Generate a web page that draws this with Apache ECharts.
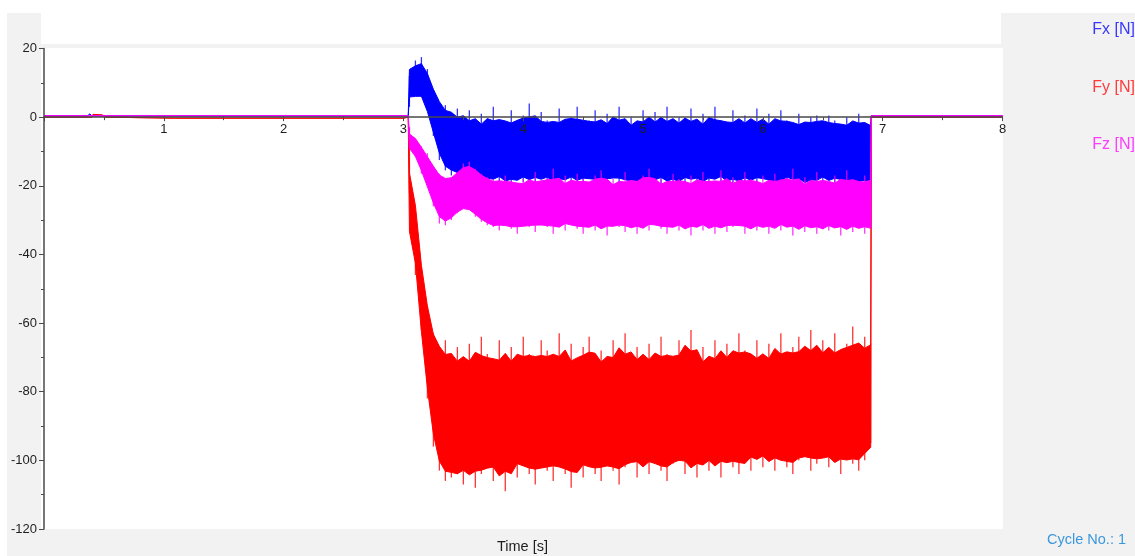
<!DOCTYPE html>
<html>
<head>
<meta charset="utf-8">
<script src="https://cdn.jsdelivr.net/npm/echarts@6/dist/echarts.min.js"></script>
<style>
html,body{margin:0;padding:0;background:#fff;}
#c{width:1135px;height:556px;}
</style>
</head>
<body>
<div id="c"></div>
<script>
// ---- data ----
const seriesNames = ['Fx [N]', 'Fy [N]', 'Fz [N]'];
const xTicks = [1, 2, 3, 4, 5, 6, 7, 8];
const yTicks = [20, 0, -20, -40, -60, -80, -100, -120];

// quiet part before the load (time in s, force in N)
const preTime = [0, 0.37, 0.38, 0.40, 0.41, 0.49, 0.50, 1.10, 1.50, 2.00, 2.50, 3.00, 3.04];
const fxPre = [0.4, 0.4, 0.9, 0.4, 0.4, 0.4, 0.4, 0.4, 0.4, 0.4, 0.4, 0.4, 0.4];
const fyPre = [0, 0, 0, 0, 0.8, 0.6, 0, -0.3, -0.3, -0.3, -0.3, -0.3, 0];
const fzPre = [0.4, 0.4, 0.4, 0.4, 0.4, 0.4, 0.4, 0.4, 0.4, 0.4, 0.4, 0.4, 0.4];

// loaded part: upper / lower envelope of the noisy signals
const bandTime = [3.05,3.1,3.15,3.2,3.25,3.3,3.35,3.4,3.45,3.5,
  3.55,3.6,3.65,3.7,3.75,3.8,3.85,3.9,3.95,4.0,
  4.05,4.1,4.15,4.2,4.25,4.3,4.35,4.4,4.45,4.5,
  4.55,4.6,4.65,4.7,4.75,4.8,4.85,4.9,4.95,5.0,
  5.05,5.1,5.15,5.2,5.25,5.3,5.35,5.4,5.45,5.5,
  5.55,5.6,5.65,5.7,5.75,5.8,5.85,5.9,5.95,6.0,
  6.05,6.1,6.15,6.2,6.25,6.3,6.35,6.4,6.45,6.5,
  6.55,6.6,6.65,6.7,6.75,6.8,6.85,6.9];

const fxHi = [12,16.5,17.5,14,8,4,3.5,0.5,2.5,-1,
  2,-2,1,-3,3,-1,-2,2,-3,0.5,
  4,-2,1.5,-1,-3,2.5,-2,0,3,-2.5,
  -1,2,-3,1,-1.5,3,-2,0,-3,2,
  -1,1.5,-2.5,3,-2,0,-1,2.5,-3,1,
  -2,3,-1,-3,2,-1.5,0.5,-2,2.5,-3,
  1,-2,2,-1,-2.5,1,-3,0,0.5,-2,
  0.5,-1,-3,0,-2,1,-2,-1.5];
const fxLo = [3,8,6,3,-5.5,-12.5,-15.5,-17,-16,-17.5,
  -19,-20,-18,-20.5,-17,-19,-18,-21,-17.5,-19,
  -18,-20,-17,-19.5,-18,-21,-17,-19,-18.5,-20,
  -17,-19,-20.5,-18,-17.5,-20,-18,-19,-21,-17.5,
  -19,-18,-20,-17,-21,-18.5,-19,-17.5,-20,-18,
  -20.5,-17,-19,-18,-21,-17.5,-19.5,-18,-20,-17,
  -19,-21,-18,-19.5,-17,-20,-18.5,-21,-17.5,-19,
  -18,-20.5,-17,-19,-21,-18,-19.5,-20];

const fyHi = [-3,-28,-44,-55,-63,-68,-65,-70,-67,-72,
  -66,-71,-64,-69,-73,-65,-70,-67,-72,-64,
  -69,-71,-65,-68,-72,-63,-70,-66,-73,-67,
  -64,-70,-68,-72,-65,-69,-63,-71,-67,-70,
  -66,-72,-64,-69,-71,-65,-68,-62,-70,-67,
  -73,-65,-69,-66,-71,-63,-68,-70,-65,-72,
  -66,-69,-63,-71,-67,-64,-70,-62,-68,-65,
  -69,-63,-70,-66,-61,-68,-64,-66];
const fyLo = [-22,-46,-62,-82,-96,-103,-106,-105,-104,-107,
  -102,-108,-104,-101,-106,-103,-109,-102,-105,-100,
  -104,-107,-101,-103,-106,-100,-104,-108,-102,-105,
  -101,-104,-106,-100,-103,-107,-102,-99,-105,-101,
  -104,-100,-103,-106,-101,-99,-104,-102,-105,-100,
  -103,-101,-105,-99,-102,-104,-100,-103,-98,-102,
  -100,-103,-99,-102,-104,-100,-98,-103,-101,-99,
  -102,-100,-104,-99,-101,-103,-100,-95];

const fzHi = [-3,-6.5,-8.5,-10.5,-14.5,-16.5,-18,-17.5,-16,-13.5,
  -13,-15,-16.5,-17.5,-18,-19,-17,-18.5,-19.5,-18,
  -19,-16,-20,-18,-15,-19.5,-17,-20,-16.5,-18,
  -20,-17,-15.5,-19,-18,-20.5,-16,-18.5,-19,-17,
  -15,-19,-18,-20,-16.5,-18,-19.5,-17,-20,-16,
  -18.5,-20,-15.5,-19,-17.5,-20,-16,-18,-19.5,-17,
  -20,-16.5,-18,-19,-15,-19.5,-17.5,-20,-16,-18.5,
  -19,-17,-20,-15.5,-18,-19.5,-17,-18.5];
const fzLo = [-7,-11.5,-16.5,-19.5,-26,-31,-31.5,-30,-28,-26.5,
  -27,-29,-30.5,-31.5,-32,-33,-31,-32.5,-34,-31,
  -32,-33.5,-30.5,-32,-34,-31,-33,-30.5,-32.5,-34,
  -31,-33,-32,-34.5,-30.5,-32,-33.5,-31,-34,-32,
  -33,-30.5,-32.5,-34,-31,-33,-32,-34.5,-30.5,-33,
  -32,-34,-31,-33.5,-32,-30.5,-34,-32.5,-33,-31,
  -34,-32,-33,-30.5,-34.5,-32,-33.5,-31,-34,-32.5,
  -33,-31,-34.5,-32,-33.5,-31.5,-34,-32];

// back to rest after the load
const postTime = [6.905, 8];
const fxPost = [0.4, 0.4];
const fyPost = [0, 0];
const fzPost = [0.4, 0.4];

// ---- build chart ----
const colors = ['#0000ff', '#ff0000', '#ff00ff'];
const legendColors = ['#3838ff', '#ff3b3b', '#ff3cff'];
const FONT = '"Liberation Sans", Arial, sans-serif';

const allTime = preTime.concat(bandTime, postTime);
const bandStart = preTime.length, bandEnd = preTime.length + bandTime.length - 1;

// rendering helper: dense core of the noise band (drawn solid) plus one
// spike per sample that reaches the read upper/lower envelope
function coreEdges(L, H) {
  const cLo = L.slice(), cHi = H.slice();
  for (let j = bandStart; j <= bandEnd; j++) {
    let sh = 0, sl = 0, k = 0;
    for (let m = Math.max(bandStart, j - 1); m <= Math.min(bandEnd, j + 1); m++) {
      sh += H[m]; sl += L[m]; k++;
    }
    const mh = sh / k, ml = sl / k, w = mh - ml;
    cHi[j] = mh - 0.04 * w;
    cLo[j] = ml + 0.04 * w;
  }
  return [cLo, cHi];
}

function bandRenderer(color) {
  return function (params, api) {
    if (params.dataIndexInside !== 0) return null;
    const n = params.dataInsideLength;
    const upper = [], lower = [], children = [];
    for (let j = 0; j < n; j++) {
      const t = api.value(0, j);
      upper.push(api.coord([t, api.value(4, j)]));
      lower.push(api.coord([t, api.value(3, j)]));
    }
    children.push({
      type: 'polygon',
      shape: { points: upper.concat(lower.slice().reverse()) },
      style: { fill: color, stroke: color, lineWidth: 1 }
    });
    for (let j = 0; j < n; j++) {
      const lo = api.value(1, j), hi = api.value(2, j);
      if (hi - lo < 1) continue;
      const t = api.value(0, j);
      const p1 = api.coord([t, hi]), p2 = api.coord([t, lo]);
      children.push({
        type: 'line',
        shape: { x1: p1[0], y1: p1[1], x2: p2[0], y2: p2[1] },
        style: { stroke: color, lineWidth: 1.3, opacity: 0.8 }
      });
    }
    return { type: 'group', children: children };
  };
}

function buildBand(name, color, pre, lo, hi, post) {
  const L = pre.concat(lo, post);
  const H = pre.concat(hi, post);
  const core = coreEdges(L, H);
  return {
    type: 'custom',
    name: name,
    silent: true,
    animation: false,
    itemStyle: { color: color },
    renderItem: bandRenderer(color),
    encode: { x: 0, y: [1, 2] },
    data: allTime.map((t, i) => [t, L[i], H[i], core[0][i], core[1][i]]),
    z: 2
  };
}

const series = [
  buildBand(seriesNames[0], colors[0], fxPre, fxLo, fxHi, fxPost),
  buildBand(seriesNames[1], colors[1], fyPre, fyLo, fyHi, fyPost),
  buildBand(seriesNames[2], colors[2], fzPre, fzLo, fzHi, fzPost)
];

const gridTop = 48.5, gridBottom = 27, chartH = 556;
const yMin = -120, yMax = 20;
const plotH = chartH - gridTop - gridBottom;
const zeroOffset = -plotH * (0 - yMin) / (yMax - yMin); // moves the time axis up to y = 0

const chart = echarts.init(document.getElementById('c'), null, { renderer: 'canvas' });
chart.setOption({
  animation: false,
  backgroundColor: '#ffffff',
  textStyle: { fontFamily: FONT },
  graphic: [
    { type: 'rect', z: -100, silent: true, shape: { x: 7, y: 13, width: 1128, height: 543 }, style: { fill: '#f2f2f2' } },
    { type: 'rect', z: -99, silent: true, shape: { x: 41, y: 13, width: 960, height: 31 }, style: { fill: '#ffffff' } },
    { type: 'rect', z: -99, silent: true, shape: { x: 41, y: 48, width: 962, height: 481 }, style: { fill: '#ffffff' } },
    { type: 'text', z: 50, silent: true, left: 497, top: 539,
      style: { text: 'Time [s]', fill: '#1e1e1e', font: '14.5px ' + FONT } },
    { type: 'text', z: 50, silent: true, right: 9, top: 532,
      style: { text: 'Cycle No.: 1', fill: '#3c98dc', font: '14.5px ' + FONT } }
  ],
  legend: {
    data: seriesNames.map((n, i) => ({ name: n, icon: 'none', textStyle: { color: legendColors[i] } })),
    orient: 'vertical',
    right: 0,
    top: 20,
    padding: 0,
    align: 'left',
    itemWidth: 0,
    itemHeight: 20,
    itemGap: 37.5,
    selectedMode: false,
    textStyle: { fontSize: 16, fontFamily: FONT, lineHeight: 20 }
  },
  grid: { left: 44, right: 132.5, top: gridTop, bottom: gridBottom, containLabel: false },
  xAxis: {
    type: 'value', min: 0, max: 8, interval: 1, z: 10,
    offset: zeroOffset,
    axisLine: { onZero: false, lineStyle: { color: '#4a4a4a', width: 1.5 } },
    axisTick: { show: true, length: 4, lineStyle: { color: '#4a4a4a', width: 1 } },
    minorTick: { show: true, splitNumber: 2, length: 3, lineStyle: { color: '#4a4a4a', width: 1 } },
    splitLine: { show: false },
    axisLabel: {
      color: '#1e1e1e', fontSize: 13, fontFamily: FONT, margin: 6,
      formatter: v => (xTicks.indexOf(v) >= 0 ? String(v) : '')
    }
  },
  yAxis: {
    type: 'value', min: yMin, max: yMax, interval: 20, z: 10,
    axisLine: { show: true, onZero: false, lineStyle: { color: '#4a4a4a', width: 1.5 } },
    axisTick: { show: true, length: 5, lineStyle: { color: '#4a4a4a', width: 1 } },
    minorTick: { show: true, splitNumber: 2, length: 3, lineStyle: { color: '#4a4a4a', width: 1 } },
    splitLine: { show: false },
    axisLabel: {
      color: '#1e1e1e', fontSize: 13, fontFamily: FONT, margin: 7,
      formatter: v => (yTicks.indexOf(v) >= 0 ? String(v) : '')
    }
  },
  series: series
});
</script>
</body>
</html>
